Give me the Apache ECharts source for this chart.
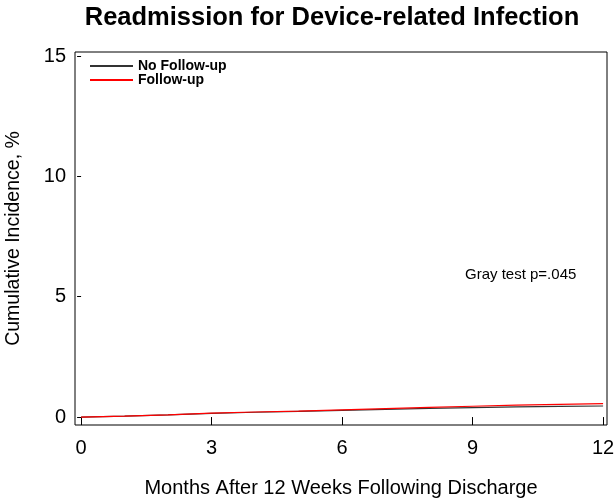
<!DOCTYPE html>
<html>
<head>
<meta charset="utf-8">
<script src="https://cdn.jsdelivr.net/npm/echarts@6/dist/echarts.min.js"></script>
<style>html,body{margin:0;padding:0;background:#fff;}#c{width:615px;height:499px;}</style>
</head>
<body>
<div id="c"></div>
<script>
var months = [0,1,2,3,4,5,6,7,8,9,10,11,12];
var noFollowUp = [0,0.04,0.09,0.15,0.20,0.24,0.28,0.32,0.36,0.39,0.42,0.44,0.46];
var followUp   = [0,0.04,0.09,0.16,0.21,0.25,0.30,0.35,0.40,0.45,0.50,0.53,0.56];
var xTicks = [0,3,6,9,12];
var yTicks = [0,5,10,15];

function pairs(xs, ys){ return xs.map(function(x,i){ return [x, ys[i]]; }); }

var FONT = 'Liberation Sans, Arial, sans-serif';
var chart = echarts.init(document.getElementById('c'), null, {renderer:'canvas'});
chart.setOption({
  animation: false,
  backgroundColor: '#fff',
  title: {
    text: 'Readmission for Device-related Infection',
    left: 327, top: 0, textAlign: 'center',
    textStyle: {fontFamily: FONT, fontSize: 25.5, fontWeight: 'bold', color: '#000'}
  },
  legend: {
    orient: 'vertical', left: 85, top: 54,
    itemWidth: 43, itemHeight: 2, itemGap: 0,
    icon: 'rect',
    textStyle: {fontFamily: FONT, fontSize: 14, fontWeight: 'bold', color: '#000'},
    data: ['No Follow-up', 'Follow-up']
  },
  grid: {left: 75, right: 8, top: 52, bottom: 74, outerBoundsMode: 'none', containLabel: false,
         show: true, borderColor: '#000', borderWidth: 1, backgroundColor: '#fff'},
  xAxis: {
    type: 'value', min: -0.14, max: 12.09,
    name: 'Months After 12 Weeks Following Discharge',
    nameLocation: 'middle', nameGap: 53,
    nameTextStyle: {fontFamily: FONT, fontSize: 20, color: '#000'},
    axisLine: {show: false},
    splitLine: {show: false},
    axisTick: {show: true, length: 8, customValues: xTicks, lineStyle: {color: '#000'}},
    axisLabel: {customValues: xTicks, fontFamily: FONT, fontSize: 20, color: '#000', margin: 13}
  },
  yAxis: {
    type: 'value', min: -0.33, max: 15.17,
    name: 'Cumulative Incidence, %',
    nameLocation: 'middle', nameGap: 51,
    nameTextStyle: {fontFamily: FONT, fontSize: 19.5, color: '#000'},
    axisLine: {show: false},
    splitLine: {show: false},
    axisTick: {show: true, length: 4, customValues: yTicks, lineStyle: {color: '#000'}},
    axisLabel: {customValues: yTicks, fontFamily: FONT, fontSize: 20, color: '#000', margin: 9}
  },
  graphic: [{
    type: 'text', left: 465, top: 267,
    style: {text: 'Gray test p=.045', font: '15px ' + FONT, fill: '#000'}
  }],
  series: [
    {name: 'No Follow-up', type: 'line', data: pairs(months, noFollowUp), symbol: 'none',
     lineStyle: {color: '#333', width: 1.2}, itemStyle: {color: '#333'}},
    {name: 'Follow-up', type: 'line', data: pairs(months, followUp), symbol: 'none',
     lineStyle: {color: '#ff0000', width: 1.2}, itemStyle: {color: '#ff0000'}}
  ]
});
</script>
</body>
</html>
